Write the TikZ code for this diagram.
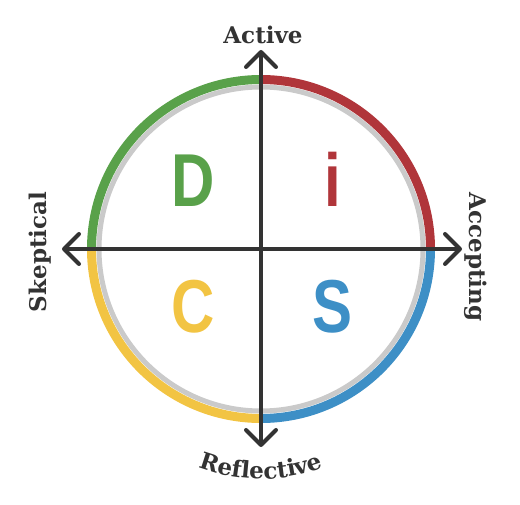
\documentclass[tikz,border=0pt]{standalone}
\usepackage{fontspec}
\usetikzlibrary{arrows.meta,decorations.text}
\newfontfamily\labfont{DejaVu Serif}[BoldFont={DejaVu Serif Bold}]
\newfontfamily\letfont{Liberation Sans}
\definecolor{dgreen}{HTML}{59A14A}
\definecolor{dred}{HTML}{B0353A}
\definecolor{dyellow}{HTML}{F2C443}
\definecolor{dblue}{HTML}{3D8FC6}
\definecolor{ringgray}{HTML}{CACACA}
\definecolor{axisgray}{HTML}{333333}
\tikzset{
  ring/.style={line width=9pt, line cap=butt},
  axis/.style={line width=4pt, draw=axisgray, {Straight Barb[length=15pt,width=30pt,line cap=round,line join=round]}-{Straight Barb[length=15pt,width=30pt,line cap=round,line join=round]}},
  letter/.style={font=\letfont\bfseries\fontsize{75}{75}\selectfont, anchor=base, inner sep=0pt, xscale=0.8},
  lab/.style={font=\labfont\bfseries\fontsize{23}{23}\selectfont, text=axisgray, inner sep=0pt}
}
\begin{document}
\begin{tikzpicture}[x=1pt,y=1pt]
\useasboundingbox (0,0) rectangle (520,504);
\coordinate (c) at (261,255);
% gray inner ring
\draw[ringgray, line width=5pt] (c) circle (162);
% coloured ring
\draw[ring, dred]    ([shift={(0:169.5)}]c) arc (0:90:169.5);
\draw[ring, dgreen]  ([shift={(90:169.5)}]c) arc (90:180:169.5);
\draw[ring, dyellow] ([shift={(180:169.5)}]c) arc (180:270:169.5);
\draw[ring, dblue]   ([shift={(270:169.5)}]c) arc (270:360:169.5);
% axes
\coordinate (top) at (261,454);
\coordinate (bottom) at (261,57);
\coordinate (left) at (62,255);
\coordinate (right) at (462,255);
\draw[axis] (bottom) -- (top);
\draw[axis] (left) -- (right);
% letters
\node[letter, text=dgreen]  (D) at (193,297) {D};
\node[letter, text=dred]    (I) at (333,297) {i};
\node[letter, text=dyellow] (C) at (193,171) {C};
\node[letter, text=dblue]   (S) at (333,171) {S};
% labels
\node[lab] (active) at (263,469) {Active};
\node[lab, rotate=90] (skeptical) at (40,252) {Skeptical};
\node[lab, rotate=-90] (accepting) at (476,247) {Accepting};
\coordinate (rc) at (261,200);
\path[decorate, decoration={text along path, text align=center,
  text={|\labfont\bfseries\fontsize{23}{23}\selectfont\color{axisgray}|Reflective}}]
  ([shift={(235:175)}]rc) arc (235:305:175);
\end{tikzpicture}
\end{document}
